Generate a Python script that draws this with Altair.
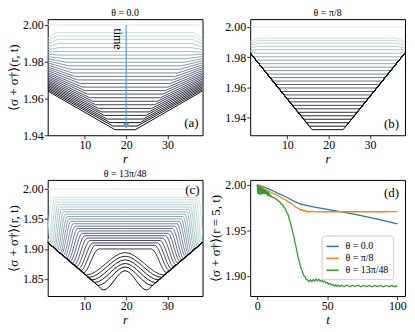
import altair as alt
import numpy as np
import pandas as pd

FONT = "Liberation Serif"
N_LINES = 29

# ---------------- panel (a): theta = 0.0 ----------------
a_mid = [2.0000, 1.9959, 1.9940, 1.9922, 1.9899, 1.9877, 1.9856, 1.9836, 1.9817, 1.9797,
         1.9778, 1.9759, 1.9739, 1.9720, 1.9701, 1.9682, 1.9662, 1.9643, 1.9624, 1.9604,
         1.9585, 1.9566, 1.9546, 1.9527, 1.9508, 1.9488, 1.9469, 1.9450, 1.9430]
a_edge = [2.0000, 1.9925, 1.9910, 1.9895, 1.9880, 1.9866, 1.9852, 1.9840, 1.9828, 1.9816,
          1.9805, 1.9794, 1.9783, 1.9772, 1.9762, 1.9752, 1.9742, 1.9733, 1.9724, 1.9715,
          1.9706, 1.9697, 1.9689, 1.9681, 1.9673, 1.9665, 1.9657, 1.9649, 1.9641]
a_ramp = [0.0, 2.0, 2.2, 2.4, 2.6, 2.8, 3.0, 3.5, 4.0, 4.5, 5.0, 5.5, 6.0, 6.6, 7.2,
          7.8, 8.4, 9.0, 9.6, 10.2, 10.9, 11.6, 12.3, 13.0, 13.7, 14.4, 15.1, 15.8, 16.3]

# ---------------- panel (b): theta = pi/8 ----------------
b_mid = [2.0000, 1.9926, 1.9910, 1.9893, 1.9872, 1.9849, 1.9826, 1.9803, 1.9780, 1.9757,
         1.9734, 1.9711, 1.9688, 1.9665, 1.9642, 1.9619, 1.9596, 1.9573, 1.9550, 1.9527,
         1.9504, 1.9481, 1.9458, 1.9435, 1.9412, 1.9389, 1.9366, 1.9343, 1.9320]
b_edge = [2.0000, 1.9904, 1.9893, 1.9878, 1.9862, 1.9848, 1.9838, 1.9830, 1.9828, 1.9828,
          1.9828, 1.9828, 1.9828, 1.9828, 1.9828, 1.9828, 1.9828, 1.9828, 1.9828, 1.9828,
          1.9828, 1.9828, 1.9828, 1.9828, 1.9828, 1.9828, 1.9828, 1.9828, 1.9828]
b_ramp = [0.0, 2.0, 2.0, 2.0, 2.0, 2.0, 1.5, 0.8, 1.42, 2.09, 2.77, 3.45, 4.13, 4.81, 5.49,
          6.17, 6.84, 7.52, 8.20, 8.88, 9.56, 10.24, 10.91, 11.59, 12.27, 12.95, 13.63, 14.31, 14.99]

# ---------------- panel (c): theta = 13pi/48 ----------------
c_center = [2.0000, 1.9860, 1.9820, 1.9780, 1.9740, 1.9700, 1.9660, 1.9620, 1.9580, 1.9540,
            1.9500, 1.9460, 1.9420, 1.9380, 1.9340, 1.9300, 1.9260, 1.9220, 1.9180, 1.9140,
            1.9100, 1.9060, 1.8999, 1.8939, 1.8878, 1.8818, 1.8757, 1.8697, 1.8636]
c_edge = [2.0000, 1.9225, 1.9170, 1.9140, 1.9120, 1.9110, 1.9110, 1.9110, 1.9110, 1.9110,
          1.9110, 1.9110, 1.9110, 1.9110, 1.9110, 1.9110, 1.9110, 1.9110, 1.9110, 1.9110,
          1.9110, 1.9110, 1.9110, 1.9110, 1.9110, 1.9110, 1.9110, 1.9110, 1.9110]
c_foot_r = [1.00, 1.00, 1.34, 1.67, 2.01, 2.34, 2.68, 3.01, 3.35, 3.68, 4.02, 4.35, 4.74, 5.12,
            5.56, 5.99, 6.43, 6.91, 7.40, 7.93, 8.47, 9.00, 9.64, 10.27, 10.91, 11.64, 12.38,
            13.21, 14.50]
c_foot_v = [2.0000, 1.9225, 1.9150, 1.9120, 1.9065, 1.9031, 1.9011, 1.8991, 1.8971, 1.8952,
            1.8932, 1.8912, 1.8889, 1.8867, 1.8841, 1.8816, 1.8790, 1.8761, 1.8732, 1.8701,
            1.8669, 1.8638, 1.8600, 1.8563, 1.8525, 1.8482, 1.8439, 1.8390, 1.8314]
# shoulder where the line reaches its plateau; 19.75 = rounded arch straight to the centre
c_shoulder = [1.00, 2.00, 2.47, 2.93, 3.40, 3.86, 4.33, 4.79, 5.26, 5.72, 6.19, 6.65, 7.17,
              7.68, 8.25, 8.81, 9.38, 9.99, 10.61, 11.27, 11.94, 12.60, 13.37, 19.75, 19.75,
              19.75, 19.75, 19.75, 19.75]
c_env_r = [1, 2, 3, 4, 5, 6, 7, 8, 9, 10, 11, 12, 13, 14, 15]
c_env_v = [1.9110, 1.9050, 1.8990, 1.8930, 1.8875, 1.8815, 1.8755, 1.8700, 1.8640, 1.8580,
           1.8520, 1.8460, 1.8400, 1.8340, 1.8290]

# ---------------- panel (d): r = 5 time traces ----------------
d_labels = ["θ = 0.0", "θ = π/8", "θ = 13π/48"]
d_colors = ["#1f77b4", "#ff7f0e", "#2ca02c"]
blue_t = [0, 5, 10, 15, 20, 25, 30, 35, 40, 45, 50, 55, 60, 65, 70, 75, 80, 85, 90, 95, 100]
blue_v = [2.0000, 1.9975, 1.9942, 1.9905, 1.9871, 1.9830, 1.9793, 1.9773, 1.9757, 1.9743,
          1.9729, 1.9716, 1.9703, 1.9689, 1.9674, 1.9658, 1.9642, 1.9625, 1.9607, 1.9590, 1.9572]
orange_t = [0, 0.5, 1, 1.5, 2, 2.5, 3, 3.5, 4, 4.5, 5, 6, 7, 8, 9, 10, 12, 14, 16, 18, 20,
            22, 24, 26, 28, 30, 31, 32, 33, 34, 35, 36, 37, 38, 39, 40, 42, 44, 46, 48, 50,
            55, 60, 65, 70, 75, 80, 85, 90, 95, 100]
orange_v = [2.0000, 1.9970, 1.9992, 1.9962, 1.9985, 1.9960, 1.9980, 1.9955, 1.9970, 1.9952,
            1.9955, 1.9948, 1.9940, 1.9932, 1.9923, 1.9915, 1.9900, 1.9885, 1.9870, 1.9852,
            1.9835, 1.9815, 1.9795, 1.9772, 1.9752, 1.9735, 1.9722, 1.9728, 1.9712, 1.9718,
            1.9704, 1.9712, 1.9702, 1.9709, 1.9702, 1.9707, 1.9703, 1.9706, 1.9703, 1.9705,
            1.9704, 1.9705, 1.9704, 1.9705, 1.9704, 1.9705, 1.9704, 1.9705, 1.9704, 1.9705, 1.9705]
green_t = [0, 0.5, 1, 1.5, 2, 2.5, 3, 3.5, 4, 4.5, 5, 5.5, 6, 6.5, 7, 7.5, 8, 8.5, 9, 9.5, 10,
           11, 12, 13, 14, 15, 16, 17, 18, 19, 20, 21, 22, 23, 24, 25, 26, 27, 28, 29, 30,
           31, 32, 33, 34, 35, 36, 37, 38, 39, 40, 41, 42, 43, 44, 45, 46, 47, 48, 49, 50,
           51, 52, 53, 54, 55, 56, 57, 58, 59, 60, 62, 64, 66, 68, 70, 72, 74, 76, 78, 80,
           82, 84, 86, 88, 90, 92, 94, 96, 98, 100]
green_v = [2.0000, 1.9900, 1.9990, 1.9890, 1.9980, 1.9890, 1.9970, 1.9900, 1.9960, 1.9900,
           1.9950, 1.9900, 1.9940, 1.9895, 1.9930, 1.9890, 1.9910, 1.9880, 1.9895, 1.9870,
           1.9875, 1.9860, 1.9862, 1.9845, 1.9840, 1.9820, 1.9815, 1.9790, 1.9785, 1.9755,
           1.9740, 1.9700, 1.9675, 1.9615, 1.9570, 1.9500, 1.9445, 1.9365, 1.9300, 1.9215,
           1.9160, 1.9095, 1.9060, 1.9010, 1.8995, 1.8962, 1.8958, 1.8938, 1.8958, 1.8940,
           1.8962, 1.8944, 1.8966, 1.8948, 1.8964, 1.8944, 1.8954, 1.8934, 1.8946, 1.8924,
           1.8928, 1.8910, 1.8918, 1.8898, 1.8907, 1.8888, 1.8905, 1.8885, 1.8900, 1.8884,
           1.8899, 1.8884, 1.8898, 1.8883, 1.8897, 1.8884, 1.8898, 1.8882, 1.8897, 1.8883,
           1.8896, 1.8882, 1.8897, 1.8883, 1.8896, 1.8882, 1.8896, 1.8883, 1.8895, 1.8882,
           1.8893]

# ---------------- helpers ----------------
R_LO, R_HI = 1.0, 38.5
R_MID = (R_LO + R_HI) / 2


def bone_hex(x):
    r = np.interp(x, [0, 0.746032, 1], [0, 0.652778, 1])
    g = np.interp(x, [0, 0.365079, 0.746032, 1], [0, 0.319444, 0.777778, 1])
    b = np.interp(x, [0, 0.365079, 1], [0, 0.444444, 1])
    return "#%02x%02x%02x" % (int(round(r * 255)), int(round(g * 255)), int(round(b * 255)))


line_colors = [bone_hex(0.9 - 0.85 * k / (N_LINES - 1)) for k in range(N_LINES)]


def mirror(half):
    full = list(half)
    for r, v in reversed(half):
        if r < R_MID - 1e-9:
            full.append((R_LO + R_HI - r, v))
    return full


def table(profiles):
    rows = []
    for k, prof in enumerate(profiles):
        for i, (r, v) in enumerate(prof):
            rows.append({"k": k, "i": i, "r": r, "v": v})
    return pd.DataFrame(rows)


a_profiles = [mirror([(R_LO, e), (R_LO + w, m)]) for m, e, w in zip(a_mid, a_edge, a_ramp)]
b_profiles = [mirror([(R_LO, e), (R_LO + w, m)]) for m, e, w in zip(b_mid, b_edge, b_ramp)]

c_profiles = []
for k in range(N_LINES):
    if k == 0:
        half = [(R_LO, c_center[0]), (R_MID, c_center[0])]
    else:
        half = [(R_LO, c_edge[k])]
        for r, v in zip(c_env_r, c_env_v):
            if R_LO < r <= c_foot_r[k] - 0.7:
                half.append((r, v))
        if c_foot_r[k] > R_LO:
            half.append((c_foot_r[k], c_foot_v[k]))
        if c_shoulder[k] < R_MID - 1e-9:
            half.append((c_shoulder[k], c_center[k]))
        half.append((R_MID, c_center[k]))
    c_profiles.append(mirror(half))

W, H = 156, 117
LABEL_FS = 12
TITLE_FS = 13


def xaxis(vals, title):
    return alt.Axis(values=vals, title=title, titleFontStyle="italic", labelFlush=False,
                    format="d", titlePadding=2, labelPadding=1)


def yaxis(vals, title, fmt=".2f"):
    return alt.Axis(values=vals, title=title, format=fmt, titlePadding=2, labelPadding=1)


def rscale():
    return alt.Scale(domain=[R_LO, R_HI], nice=False, zero=False)


def family_panel(df, interp, ydom, yvals, ytitle, letter, lx, ly, lbase):
    lines = alt.Chart(df).mark_line(interpolate=interp, strokeWidth=1.0, clip=True).encode(
        x=alt.X("r:Q", scale=rscale(), axis=xaxis([10, 20, 30], "r")),
        y=alt.Y("v:Q", scale=alt.Scale(domain=ydom, nice=False, zero=False),
                axis=yaxis(yvals, ytitle)),
        color=alt.Color("k:O", scale=alt.Scale(domain=list(range(N_LINES)), range=line_colors),
                        legend=None),
        order=alt.Order("i:Q"),
    )
    lab = alt.Chart(pd.DataFrame({"label": [letter]})).mark_text(
        font=FONT, fontSize=13, align="right", baseline=lbase, color="black"
    ).encode(x=alt.value(lx), y=alt.value(ly), text="label:N")
    return lines, lab


ylab_a = "⟨σ + σ†⟩(r, t)"
A_YDOM = [1.94, 2.0032]
A_YVALS = [1.94, 1.96, 1.98, 2.00]
df_a = table(a_profiles)
la, laba = family_panel(df_a, "linear", A_YDOM, A_YVALS, ylab_a, "(a)", W - 4, H - 5, "bottom")

arrow_r = [20.0]
arrow_top = [2.000]
arrow_bot = [1.9440]
arrow_head = [1.9452]
arrow_df = pd.DataFrame({"r": arrow_r, "v": arrow_top, "v2": arrow_bot, "head": arrow_head})
ARROW_C = "#5a9be6"
ax_x = xaxis([10, 20, 30], "r")
ax_y = yaxis(A_YVALS, ylab_a)
arrow_line = alt.Chart(arrow_df).mark_rule(color=ARROW_C, strokeWidth=1.2).encode(
    x=alt.X("r:Q", axis=ax_x), y=alt.Y("v:Q", axis=ax_y), y2="v2:Q")
arrow_tip = alt.Chart(arrow_df).mark_point(shape="triangle-down", filled=True, size=40,
                                           color=ARROW_C, opacity=1).encode(
    x=alt.X("r:Q", axis=ax_x), y=alt.Y("head:Q", axis=ax_y))
time_df = pd.DataFrame({"r": [18.1], "v": [1.9924], "label": ["time"]})
time_txt = alt.Chart(time_df).mark_text(font=FONT, fontSize=12, angle=90, align="center",
                                        baseline="middle", color="black").encode(
    x=alt.X("r:Q", axis=ax_x), y=alt.Y("v:Q", axis=ax_y), text="label:N")

pa = alt.layer(la, arrow_line, arrow_tip, time_txt, laba).properties(
    width=W, height=H, title=alt.TitleParams("θ = 0.0"))

df_b = table(b_profiles)
lb, labb = family_panel(df_b, "linear", [1.9283, 2.0052], [1.94, 1.96, 1.98, 2.00], None,
                        "(b)", W - 6, H - 4, "bottom")
pb = alt.layer(lb, labb).properties(width=W, height=H, title=alt.TitleParams("θ = π/8"))

df_c = table(c_profiles)
lc, labc = family_panel(df_c, "monotone", [1.8213, 2.0152], [1.85, 1.90, 1.95, 2.00], ylab_a,
                        "(c)", W - 3, 4, "top")
pc = alt.layer(lc, labc).properties(width=W, height=H, title=alt.TitleParams("θ = 13π/48"))

rows = []
for lab_, ts, vs in zip(d_labels, [blue_t, orange_t, green_t], [blue_v, orange_v, green_v]):
    for i, (t, v) in enumerate(zip(ts, vs)):
        rows.append({"theta": lab_, "t": t, "v": v, "i": i})
df_d = pd.DataFrame(rows)
ld = alt.Chart(df_d).mark_line(strokeWidth=1.3, clip=True).encode(
    x=alt.X("t:Q", scale=alt.Scale(domain=[-5, 105.5], nice=False, zero=False),
            axis=xaxis([0, 50, 100], "t")),
    y=alt.Y("v:Q", scale=alt.Scale(domain=[1.878, 2.0053], nice=False, zero=False),
            axis=yaxis([1.90, 1.95, 2.00], "⟨σ + σ†⟩(r = 5, t)")),
    color=alt.Color("theta:N", scale=alt.Scale(domain=d_labels, range=d_colors),
                    legend=alt.Legend(title=None, orient="none", legendX=72, legendY=56,
                                      symbolType="stroke", symbolStrokeWidth=1.5,
                                      symbolSize=150, labelFont=FONT, labelFontSize=10,
                                      labelColor="black", fillColor="white",
                                      strokeColor="#cccccc", padding=4, cornerRadius=3,
                                      rowPadding=0, labelOffset=6)),
    order=alt.Order("i:Q"),
)
labd = alt.Chart(pd.DataFrame({"label": ["(d)"]})).mark_text(
    font=FONT, fontSize=13, align="right", baseline="top", color="black"
).encode(x=alt.value(W - 6), y=alt.value(7), text="label:N")
pd_ = alt.layer(ld, labd).properties(width=W, height=H)

row1 = alt.hconcat(pa, pb, spacing=48, bounds="flush").resolve_scale(color="independent")
row2 = alt.hconcat(pc, pd_, spacing=48, bounds="flush").resolve_scale(color="independent")

chart = alt.vconcat(row1, row2, spacing=2).resolve_scale(
    color="independent"
).properties(
    padding={"left": -1, "top": -2, "right": 0, "bottom": 0}
).configure_view(
    stroke="black", strokeWidth=1
).configure_axis(
    labelFont=FONT, labelFontSize=LABEL_FS, labelColor="black",
    titleFont=FONT, titleFontSize=TITLE_FS, titleFontWeight="normal", titleColor="black",
    tickColor="black", tickSize=3.5, tickWidth=0.8, grid=False, domain=False,
).configure_title(
    font=FONT, fontSize=10, fontWeight="normal", color="black", offset=1
)

chart.save("out.html", embed_options={"renderer": "svg", "actions": False})
